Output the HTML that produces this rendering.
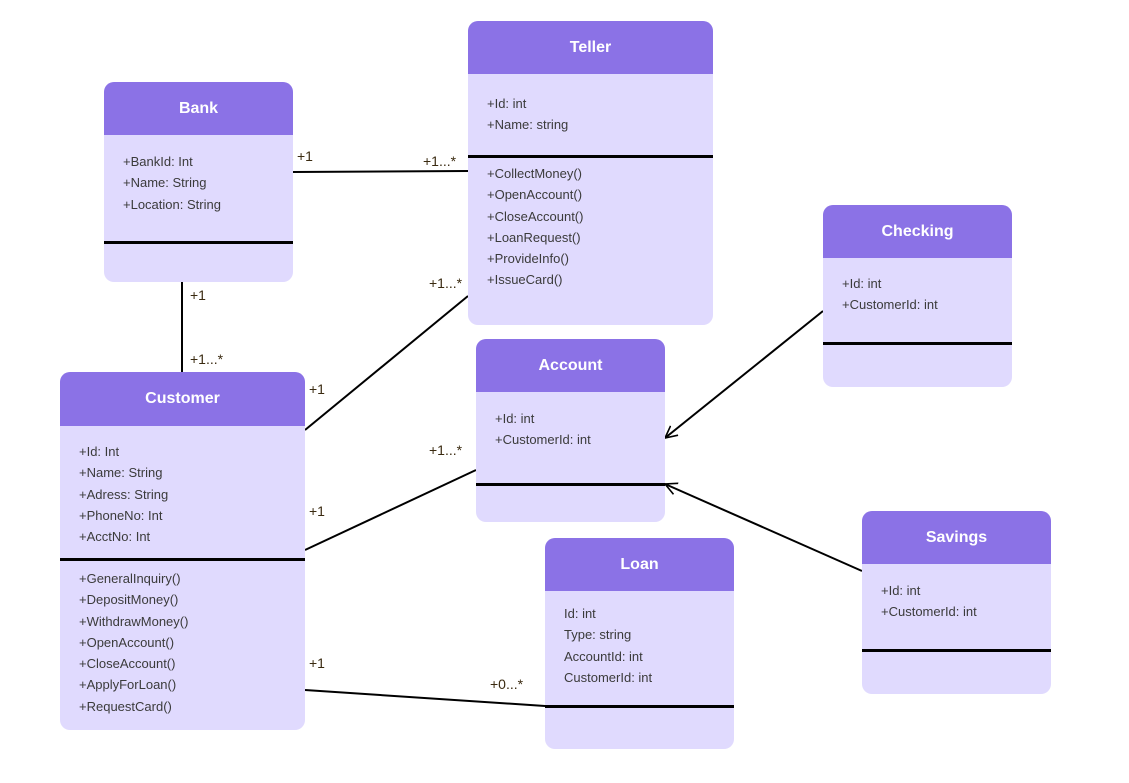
<!DOCTYPE html>
<html><head><meta charset="utf-8"><style>
body{margin:0;width:1129px;height:783px;background:#fff;position:relative;font-family:"Liberation Sans",sans-serif;overflow:hidden}
.b{position:absolute;background:#e0dafe;border-radius:10px;overflow:hidden}
.h{position:absolute;left:0;right:0;top:0;background:#8b72e6;color:#fff;font-weight:bold;font-size:16px;display:flex;align-items:center;justify-content:center}
.d{position:absolute;left:0;right:0;height:3px;background:#000}
.t{position:absolute;font-size:13px;color:#3b3b3b;line-height:21.3px;white-space:pre}
.l{position:absolute;font-size:14px;color:#3a2a10}
svg{position:absolute;left:0;top:0}
</style></head><body>
<svg width="1129" height="783">
<defs><marker id="a" markerWidth="14" markerHeight="14" refX="12" refY="7" orient="auto" markerUnits="userSpaceOnUse"><path d="M0,1 L12,7 L0,13" fill="none" stroke="#000" stroke-width="1.6"/></marker></defs>
<g stroke="#000" stroke-width="2" fill="none">
<line x1="293" y1="172" x2="468" y2="171"/>
<line x1="182" y1="282" x2="182" y2="372"/>
<line x1="305" y1="430" x2="468" y2="296"/>
<line x1="305" y1="550" x2="476" y2="470"/>
<line x1="305" y1="690" x2="545" y2="706"/>
<line x1="823" y1="311" x2="665" y2="438" marker-end="url(#a)"/>
<line x1="862" y1="571" x2="665" y2="484" marker-end="url(#a)"/>
</g></svg>

<div class="b" style="left:104px;top:82px;width:189px;height:200px"><div class="h" style="height:53px">Bank</div><div class="d" style="top:159px"></div>
<div class="t" style="left:19px;top:69px">+BankId: Int
+Name: String
+Location: String</div></div>

<div class="b" style="left:468px;top:21px;width:245px;height:304px"><div class="h" style="height:53px">Teller</div><div class="d" style="top:134px"></div>
<div class="t" style="left:19px;top:72px">+Id: int
+Name: string</div>
<div class="t" style="left:19px;top:142px">+CollectMoney()
+OpenAccount()
+CloseAccount()
+LoanRequest()
+ProvideInfo()
+IssueCard()</div></div>

<div class="b" style="left:823px;top:205px;width:189px;height:182px"><div class="h" style="height:53px">Checking</div><div class="d" style="top:137px"></div>
<div class="t" style="left:19px;top:68px">+Id: int
+CustomerId: int</div></div>

<div class="b" style="left:476px;top:339px;width:189px;height:183px"><div class="h" style="height:53px">Account</div><div class="d" style="top:144px"></div>
<div class="t" style="left:19px;top:69px">+Id: int
+CustomerId: int</div></div>

<div class="b" style="left:60px;top:372px;width:245px;height:358px"><div class="h" style="height:54px">Customer</div><div class="d" style="top:186px"></div>
<div class="t" style="left:19px;top:69px">+Id: Int
+Name: String
+Adress: String
+PhoneNo: Int
+AcctNo: Int</div>
<div class="t" style="left:19px;top:196px">+GeneralInquiry()
+DepositMoney()
+WithdrawMoney()
+OpenAccount()
+CloseAccount()
+ApplyForLoan()
+RequestCard()</div></div>

<div class="b" style="left:862px;top:511px;width:189px;height:183px"><div class="h" style="height:53px">Savings</div><div class="d" style="top:138px"></div>
<div class="t" style="left:19px;top:69px">+Id: int
+CustomerId: int</div></div>

<div class="b" style="left:545px;top:538px;width:189px;height:211px"><div class="h" style="height:53px">Loan</div><div class="d" style="top:167px"></div>
<div class="t" style="left:19px;top:65px">Id: int
Type: string
AccountId: int
CustomerId: int</div></div>

<div class="l" style="left:297px;top:148px">+1</div>
<div class="l" style="left:423px;top:153px">+1...*</div>
<div class="l" style="left:190px;top:287px">+1</div>
<div class="l" style="left:190px;top:351px">+1...*</div>
<div class="l" style="left:429px;top:275px">+1...*</div>
<div class="l" style="left:309px;top:381px">+1</div>
<div class="l" style="left:429px;top:442px">+1...*</div>
<div class="l" style="left:309px;top:503px">+1</div>
<div class="l" style="left:309px;top:655px">+1</div>
<div class="l" style="left:490px;top:676px">+0...*</div>
</body></html>
